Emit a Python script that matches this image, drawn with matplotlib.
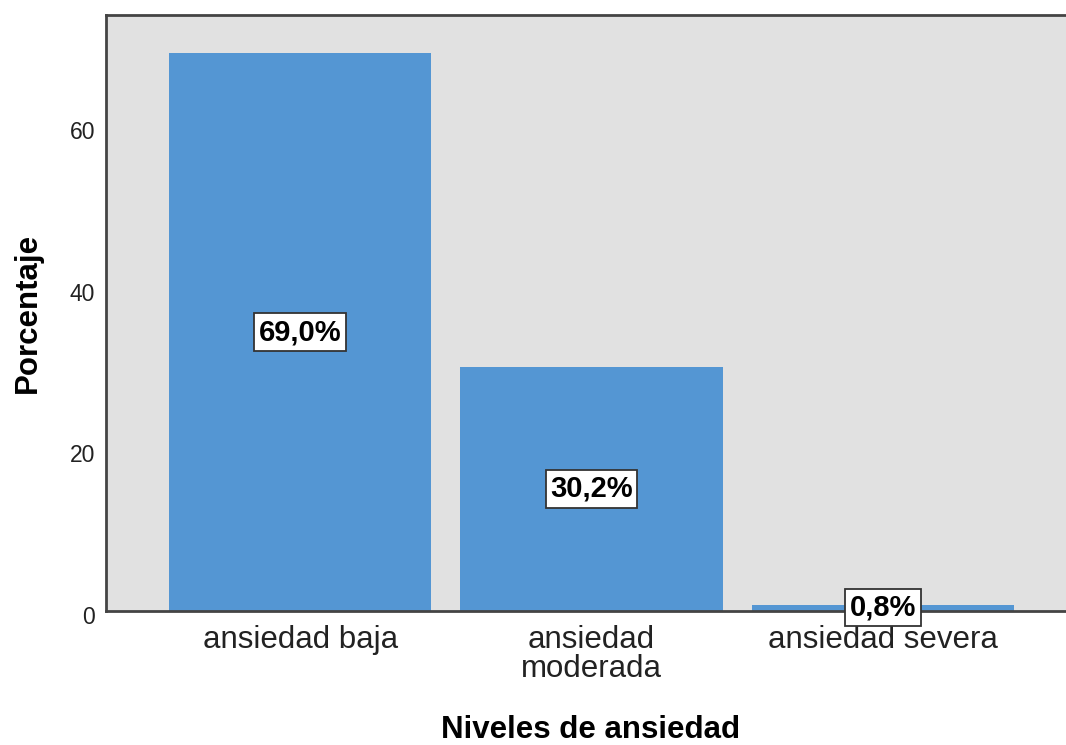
import numpy as np
import matplotlib.pyplot as plt
import matplotlib.transforms as mtransforms

# data
categorias = ['ansiedad baja', 'ansiedad\nmoderada', 'ansiedad severa']
porcentajes = [69.0, 30.2, 0.8]
etiquetas = ['69,0%', '30,2%', '0,8%']
y_ticks = [0, 20, 40, 60]

plt.rcParams['font.family'] = ['Liberation Sans', 'DejaVu Sans']

fig = plt.figure(figsize=(10.66, 7.45), dpi=100)
ax = fig.add_axes([106/1066, 134/745, (1077-106)/1066, (611-15)/745])
ax.set_facecolor('#e1e1e1')

x = np.arange(len(categorias))
ax.bar(x, porcentajes, width=0.9, color='#5496d3', zorder=2)

for xi, v, txt in zip(x, porcentajes, etiquetas):
    ax.text(xi, v/2, txt, ha='center', va='center', fontsize=21,
            fontweight='bold', zorder=3,
            bbox=dict(boxstyle='square,pad=0.16', facecolor='white',
                      edgecolor='#333333', linewidth=1.3))

ax.set_xlim(-0.666, 2.666)
ax.set_ylim(0, 73.7)
ax.set_xticks(x)
ax.set_xticklabels(categorias, fontsize=22.5, color='#222222', linespacing=0.95)
ax.set_yticks(y_ticks)
ax.tick_params(axis='y', length=0, pad=8, labelsize=16.5, labelcolor='#222222')
ax.tick_params(axis='x', length=0, pad=10)

# y tick labels sit a few pixels below their gridline in the reference
offset = mtransforms.ScaledTranslation(0, -4/100, fig.dpi_scale_trans)
for lab in ax.get_yticklabels():
    lab.set_transform(lab.get_transform() + offset)

for s in ['left', 'bottom', 'top']:
    ax.spines[s].set_color('#444444')
    ax.spines[s].set_linewidth(2)
ax.spines['right'].set_visible(False)

fig.text(591/1066, 1 - 730/745, 'Niveles de ansiedad', ha='center', va='center',
         fontsize=22.5, fontweight='bold')
fig.text(28/1066, 1 - 313/745, 'Porcentaje', ha='center', va='center',
         rotation=90, fontsize=22.5, fontweight='bold')

fig.savefig('out.png', dpi=100)
